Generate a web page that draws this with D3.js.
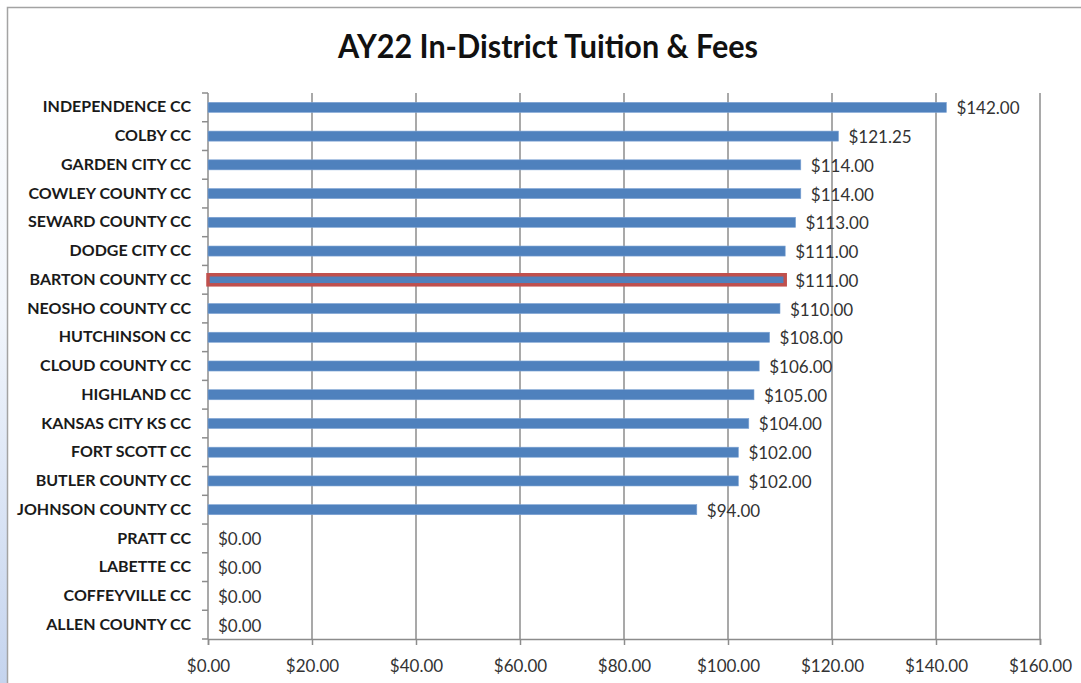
<!DOCTYPE html>
<html>
<head>
<meta charset="utf-8">
<script src="https://cdn.jsdelivr.net/npm/d3@7"></script>
<style>
  html, body { margin: 0; padding: 0; background: #fff; }
  svg { display: block; }
</style>
</head>
<body>
<svg id="chart" width="1081" height="683"></svg>
<script>
const title = "AY22 In-District Tuition & Fees";
const categories = [
  "INDEPENDENCE CC", "COLBY CC", "GARDEN CITY CC", "COWLEY COUNTY CC",
  "SEWARD COUNTY CC", "DODGE CITY CC", "BARTON COUNTY CC", "NEOSHO COUNTY CC",
  "HUTCHINSON CC", "CLOUD COUNTY CC", "HIGHLAND CC", "KANSAS CITY KS CC",
  "FORT SCOTT CC", "BUTLER COUNTY CC", "JOHNSON COUNTY CC", "PRATT CC",
  "LABETTE CC", "COFFEYVILLE CC", "ALLEN COUNTY CC"
];
const values = [142, 121.25, 114, 114, 113, 111, 111, 110, 108, 106, 105, 104, 102, 102, 94, 0, 0, 0, 0];
const highlighted = ["BARTON COUNTY CC"];
const xTicks = [0, 20, 40, 60, 80, 100, 120, 140, 160];

const svg = d3.select("#chart");
const W = 1081, H = 683;
const plot = { left: 208, right: 1040, top: 93, bottom: 639 };

// background left strip gradient (slide background)
const defs = svg.append("defs");
const grad = defs.append("linearGradient").attr("id", "strip").attr("x1", 0).attr("y1", 0).attr("x2", 0).attr("y2", 1);
grad.append("stop").attr("offset", "0%").attr("stop-color", "#ffffff");
grad.append("stop").attr("offset", "45%").attr("stop-color", "#f2f6fc");
grad.append("stop").attr("offset", "100%").attr("stop-color", "#c5d4ee");
svg.append("rect").attr("x", 0).attr("y", 0).attr("width", 7).attr("height", H).attr("fill", "url(#strip)");

// chart border
svg.append("path")
  .attr("d", `M7.5,${H} L7.5,7.5 L${W},7.5`)
  .attr("fill", "none").attr("stroke", "#a3a3a3").attr("stroke-width", 1.5);

const fmt = d => "$" + d3.format(",.2f")(d);

const x = d3.scaleLinear().domain([0, 160]).range([plot.left, plot.right]);
const y = d3.scaleBand().domain(categories).range([plot.top, plot.bottom])
  .paddingInner(0.65).paddingOuter(0.325);

// title
const t = svg.append("text")
  .attr("x", 548).attr("y", 58)
  .attr("text-anchor", "middle")
  .attr("font-family", "Lato, 'Open Sans', sans-serif")
  .attr("font-weight", "bold")
  .attr("font-size", 32)
  .attr("fill", "#111")
  .text(title);
t.attr("textLength", 420).attr("lengthAdjust", "spacingAndGlyphs");

// gridlines
const gridCol = "#8c8c8c";
svg.append("g").selectAll("line")
  .data(xTicks.filter(d => d > 0))
  .join("line")
  .attr("x1", d => x(d)).attr("x2", d => x(d))
  .attr("y1", plot.top).attr("y2", plot.bottom)
  .attr("stroke", gridCol).attr("stroke-width", 1.5);

// x axis
const xAxis = svg.append("g")
  .attr("transform", `translate(0,${plot.bottom})`)
  .call(d3.axisBottom(x).tickValues(xTicks).tickFormat(fmt).tickSize(6).tickPadding(15));
xAxis.select(".domain").attr("stroke", gridCol).attr("stroke-width", 1.5);
xAxis.selectAll(".tick line").attr("stroke", gridCol).attr("stroke-width", 1.5);
xAxis.selectAll("text")
  .attr("font-family", "Lato, 'Open Sans', sans-serif")
  .attr("font-size", 17).attr("fill", "#333");

// y axis
const yAxis = svg.append("g")
  .attr("transform", `translate(${plot.left},0)`)
  .call(d3.axisLeft(y).tickSize(0).tickPadding(17));
yAxis.select(".domain").remove();
yAxis.selectAll("text")
  .attr("font-family", "Lato, 'Open Sans', sans-serif")
  .attr("font-weight", "bold")
  .attr("font-size", 16).attr("fill", "#1a1a1a");
svg.append("line")
  .attr("x1", plot.left).attr("x2", plot.left)
  .attr("y1", plot.top).attr("y2", plot.bottom)
  .attr("stroke", gridCol).attr("stroke-width", 1.5);
// boundary ticks
const bounds = d3.range(categories.length + 1).map(i => plot.top + i * y.step());
svg.append("g").selectAll("line")
  .data(bounds)
  .join("line")
  .attr("x1", plot.left - 6).attr("x2", plot.left)
  .attr("y1", d => d).attr("y2", d => d)
  .attr("stroke", gridCol).attr("stroke-width", 1.5);

// bars
const data = categories.map((c, i) => ({ c, v: values[i], hl: highlighted.includes(c) }));
svg.append("g").selectAll("rect")
  .data(data)
  .join("rect")
  .attr("x", x(0))
  .attr("y", d => y(d.c))
  .attr("width", d => x(d.v) - x(0))
  .attr("height", y.bandwidth())
  .attr("fill", "#4f81bd")
  .attr("stroke", d => d.hl ? "#c0504d" : "#7fa4d4")
  .attr("stroke-width", d => d.hl ? 3.5 : 0.6)
  .attr("stroke-opacity", d => d.v > 0 ? 1 : 0);

// value labels
svg.append("g").selectAll("text")
  .data(data)
  .join("text")
  .attr("x", d => x(d.v) + 10)
  .attr("y", d => y(d.c) + y.bandwidth() / 2 + 7)
  .attr("font-family", "Lato, 'Open Sans', sans-serif")
  .attr("font-size", 17)
  .attr("fill", "#333")
  .text(d => fmt(d.v));
</script>
</body>
</html>
